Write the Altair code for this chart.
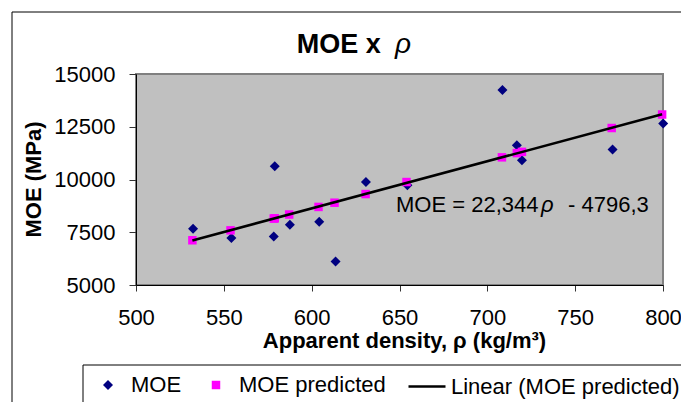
import altair as alt
import pandas as pd

# ---- data ----
density_moe = [532.5, 554.3, 578.4, 579.0, 587.6, 604.3, 613.6, 630.9, 654.5,
               708.6, 716.8, 719.7, 771.3, 800.1]
moe_values = [7670, 7223, 7304, 10630, 7860, 8000, 6116, 9884, 9727,
              14240, 11627, 10914, 11422, 12656]

density_pred = [532.1, 553.8, 578.4, 579.0, 587.2, 603.9, 613.0, 630.7, 654.0,
                708.3, 716.8, 719.7, 770.8, 799.5]
moe_pred = [7120, 7590, 8150, 8160, 8340, 8700, 8900, 9310, 9880,
            11050, 11250, 11310, 12440, 13080]

series_names = ["MOE", "MOE predicted"]
trend_name = "Linear (MOE predicted)"
x_ticks = [500, 550, 600, 650, 700, 750, 800]
y_ticks = [5000, 7500, 10000, 12500, 15000]

FONT = "Liberation Sans"

rows = []
for i, (x, y) in enumerate(zip(density_moe, moe_values)):
    rows.append({"density": x, "moe": y, "series": "MOE", "ord": i})
for i, (x, y) in enumerate(zip(density_pred, moe_pred)):
    rows.append({"density": x, "moe": y, "series": "MOE predicted", "ord": 100 + i})
points_df = pd.DataFrame(rows)
pred_df = pd.DataFrame({"density": density_pred, "moe": moe_pred, "trend": trend_name})

x_scale = alt.Scale(domain=[500, 800], nice=False, zero=False)
y_scale = alt.Scale(domain=[5000, 15000], nice=False, zero=False)

x_axis = alt.Axis(values=x_ticks, format="d", labelFontSize=22, labelFont=FONT,
                  labelColor="black", tickSize=6, tickColor="#333333",
                  labelPadding=16, domainColor="black", domainWidth=1,
                  grid=False, labelFlush=False, labelOverlap=False,
                  title="Apparent density, ρ (kg/m³)", titleFontSize=22,
                  titleFont=FONT, titleFontWeight="bold", titleColor="black",
                  titleX=268, titleY=62, titleBaseline="alphabetic",
                  titleAlign="center")
y_axis = alt.Axis(values=y_ticks, format="d", labelFontSize=22, labelFont=FONT,
                  labelColor="black", tickSize=7, tickColor="#333333",
                  labelPadding=14, domainColor="black", domainWidth=1,
                  grid=False, labelFlush=False, labelOverlap=False,
                  title="MOE (MPa)", titleFontSize=22, titleFont=FONT,
                  titleFontWeight="bold", titleColor="black",
                  titleX=-103, titleY=105, titleAngle=270,
                  titleAlign="center", titleBaseline="middle")

pt_legend = alt.Legend(title=None, orient="none", legendX=-39, legendY=300,
                       direction="horizontal", labelFontSize=22, labelFont=FONT,
                       labelColor="black", symbolSize=80, labelOffset=12,
                       columnPadding=23, padding=0, symbolStrokeWidth=0,
                       labelLimit=0)

points = alt.Chart(points_df).mark_point(filled=True, opacity=1, strokeWidth=0).encode(
    x=alt.X("density:Q", scale=x_scale, axis=x_axis),
    y=alt.Y("moe:Q", scale=y_scale, axis=y_axis),
    color=alt.Color("series:N", scale=alt.Scale(domain=series_names,
                    range=["#000080", "#FF00FF"]), legend=pt_legend),
    shape=alt.Shape("series:N", scale=alt.Scale(domain=series_names,
                    range=["diamond", "square"]), legend=pt_legend),
    size=alt.Size("series:N", scale=alt.Scale(domain=series_names,
                  range=[100, 72]), legend=None),
    order=alt.Order("ord:Q"),
)

trend = alt.Chart(pred_df).transform_regression(
    "density", "moe", groupby=["trend"]
).mark_line(strokeWidth=2.5).encode(
    x=alt.X("density:Q", scale=x_scale),
    y=alt.Y("moe:Q", scale=y_scale),
    stroke=alt.Stroke("trend:N", scale=alt.Scale(domain=[trend_name], range=["black"]),
                      legend=alt.Legend(title=None, orient="none", legendX=271,
                                        legendY=292.5, symbolType="stroke",
                                        symbolSize=1369, symbolStrokeWidth=2.5,
                                        labelFontSize=22, labelFont=FONT,
                                        labelColor="black", labelOffset=4,
                                        padding=0, labelLimit=0)),
)

one = alt.Data(values=[{"k": 1}])

outer_border = alt.Chart(one).mark_rect(fillOpacity=0, stroke="black", strokeWidth=1).encode(
    x=alt.value(-124), x2=alt.value(700), y=alt.value(-62), y2=alt.value(420))
legend_box = alt.Chart(one).mark_rect(fillOpacity=0, stroke="black", strokeWidth=1).encode(
    x=alt.value(-53), x2=alt.value(700), y=alt.value(291), y2=alt.value(420))

title_main = alt.Chart(one).mark_text(text="MOE x", font=FONT, fontSize=27,
                                      fontWeight="bold", align="left",
                                      baseline="alphabetic", color="black").encode(
    x=alt.value(160.7), y=alt.value(-20.7))
title_rho = alt.Chart(one).mark_text(text="ρ", font=FONT, fontSize=28,
                                     fontStyle="italic", align="left",
                                     baseline="alphabetic", color="black").encode(
    x=alt.value(259), y=alt.value(-20.7))

eq1 = alt.Chart(one).mark_text(text="MOE = 22,344", font=FONT, fontSize=22,
                               align="left", baseline="alphabetic", color="black").encode(
    x=alt.value(260), y=alt.value(137.5))
eq2 = alt.Chart(one).mark_text(text="ρ", font=FONT, fontSize=22, fontStyle="italic",
                               align="left", baseline="alphabetic", color="black").encode(
    x=alt.value(405), y=alt.value(137.5))
eq3 = alt.Chart(one).mark_text(text="- 4796,3", font=FONT, fontSize=22,
                               align="left", baseline="alphabetic", color="black").encode(
    x=alt.value(432), y=alt.value(137.5))

chart = alt.layer(
    outer_border, legend_box, points, trend, title_main, title_rho, eq1, eq2, eq3
).properties(
    width=527, height=211,
    autosize=alt.AutoSizeParams(type="none"),
    padding={"left": 128, "top": 66, "right": 18, "bottom": 117},
    background="white",
).configure_view(
    fill="#C0C0C0", stroke="#808080", strokeWidth=2
)

chart.save("out.html", embed_options={"renderer": "svg", "actions": False})
